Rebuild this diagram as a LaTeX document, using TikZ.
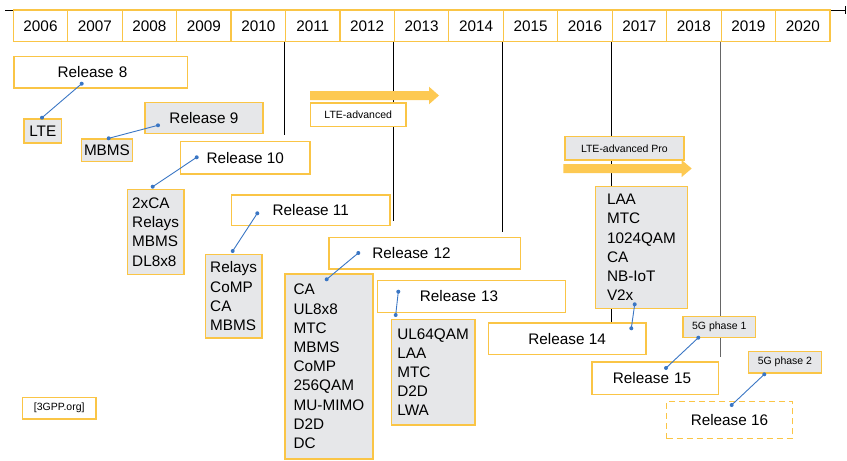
\documentclass[tikz,border=0pt]{standalone}
\usepackage{fontspec}
\setmainfont{Liberation Sans}
\usetikzlibrary{arrows.meta}

\definecolor{relorange}{RGB}{250,197,70}
\definecolor{arrowfill}{RGB}{253,201,82}
\definecolor{featgrey}{RGB}{230,231,233}
\definecolor{linkblue}{RGB}{58,118,196}

\tikzset{
	yearbox/.style={draw=relorange,line width=1.2pt,fill=white,minimum width=54.45pt,minimum height=31.7pt,inner sep=0pt,font=\fontsize{15.3}{18}\selectfont},
	relbox/.style={draw=relorange,line width=1.2pt,fill=white,anchor=north west,inner sep=0pt,font=\fontsize{15.3}{19.2}\selectfont},
	featbox/.style={relbox,fill=featgrey,align=left},
	tagbox/.style={relbox,font=\fontsize{10.5}{12}\selectfont},
	link/.style={linkblue,line width=0.9pt},
}

\begin{document}
\begin{tikzpicture}[x=1pt,y=-1pt]
	\useasboundingbox (0,0) rectangle (847,461);
	\def\yw{54.45} %width of one year box
	
	%TIMELINE
	\draw[line width=0.9pt,-{Bar[width=8pt]}] (5,10) -- (846,10);
	\foreach \yr [count=\i from 0] in {2006,...,2020}
		\node[yearbox] (y\yr) at ({40.5+\yw*\i},25.85) {\yr};
	
	%MARKER LINES
	\draw[line width=0.9pt] (y2011.south west) -- ++(0,93);
	\draw[line width=0.9pt] (y2013.south west) -- ++(0,178.3);
	\draw[line width=0.9pt] (y2015.south west) -- ++(0,190);
	\draw[line width=0.9pt] (y2017.south west) -- ++(0,280.6);
	\draw[line width=1.8pt,black!60] (y2019.south west) -- ++(0,315); %5G line
	
	%ARROWS
	\fill[arrowfill] (310,91) -- (429,91) -- (429,86.7) -- (439,95.5) -- (429,104.3) -- (429,100) -- (310,100) -- cycle; %LTE-advanced
	\fill[arrowfill] (563.3,164) -- (681.7,164) -- (681.7,160) -- (691.7,168.5) -- (681.7,177) -- (681.7,173) -- (563.3,173) -- cycle; %LTE-advanced Pro
	
	%RELEASES
	\node[relbox,text width=86pt,align=left,inner xsep=43.7pt,minimum height=31.3pt] (r8) at (13.3,56) {Release 8};
	\node[featbox,minimum width=37.7pt,minimum height=24pt] (lte) at (23.3,118.3) {LTE};
	\node[featbox,minimum width=118pt,minimum height=31pt] (r9) at (144.3,101.7) {Release 9};
	\node[featbox,minimum width=51.3pt,minimum height=22.7pt] (mbms) at (80.7,138.3) {MBMS};
	\node[relbox,minimum width=129.3pt,minimum height=32.6pt] (r10) at (180,140.7) {Release 10};
	\node[featbox,minimum width=56.6pt,minimum height=85.3pt] (f10) at (126.7,188.7) {2xCA\\Relays\\MBMS\\DL8x8};
	\node[relbox,minimum width=158.3pt,minimum height=30.4pt] (r11) at (231,194.3) {Release 11};
	\node[featbox,minimum width=56.6pt,minimum height=83.3pt] (f11) at (204.7,254) {Relays\\CoMP\\CA\\MBMS};
	\node[relbox,text width=104.9pt,align=left,inner xsep=43.4pt,minimum height=31.6pt] (r12) at (328.3,236.7) {Release 12};
	\node[featbox,minimum width=88pt,minimum height=185pt] (f12) at (284.3,273.3) {CA\\UL8x8\\MTC\\MBMS\\CoMP\\256QAM\\MU-MIMO\\D2D\\DC};
	\node[relbox,text width=103.1pt,align=left,inner xsep=42.6pt,minimum height=31.7pt] (r13) at (376.7,280) {Release 13};
	\node[featbox,minimum width=83.6pt,minimum height=105.3pt] (f13) at (390.7,319) {UL64QAM\\LAA\\MTC\\D2D\\LWA};
	\node[featbox,minimum width=91.7pt,minimum height=121.7pt] (f14) at (595,186) {LAA\\MTC\\1024QAM\\CA\\NB-IoT\\V2x};
	\node[relbox,minimum width=157.6pt,minimum height=31.7pt] (r14) at (487.7,322.3) {Release 14};
	\node[relbox,text width=84.7pt,align=left,inner xsep=21pt,minimum height=32.4pt] (r15) at (591.3,361.3) {Release 15};
	\node[relbox,dash pattern=on 6pt off 4pt,minimum width=125.7pt,minimum height=37pt] (r16) at (666,401) {Release 16};
	
	%TAGS
	\node[tagbox,minimum width=95.3pt,minimum height=23.4pt] (ltea) at (310,102.3) {LTE-advanced};
	\node[tagbox,fill=featgrey,minimum width=119pt,minimum height=23.3pt] (lteapro) at (564.3,136) {LTE-advanced Pro};
	\node[tagbox,fill=featgrey,minimum width=72.7pt,minimum height=21.3pt] (g1) at (682.3,315.7) {5G phase 1};
	\node[tagbox,fill=featgrey,minimum width=73.3pt,minimum height=21.6pt] (g2) at (747.7,350.7) {5G phase 2};
	\node[tagbox,minimum width=73.3pt,minimum height=21.6pt] (src) at (22,396.7) {[3GPP.org]};
	
	%LINKS
	\coordinate (r8d) at (81.7,83.7);   \coordinate (lted) at (42,117.7);
	\coordinate (r9d) at (158,125.3);   \coordinate (mbmsd) at (108.7,138.3);
	\coordinate (r10d) at (196.7,157.3); \coordinate (f10d) at (152.7,186.7);
	\coordinate (r11d) at (257.3,213.3); \coordinate (f11d) at (232.7,251);
	\coordinate (r12d) at (358.3,253);   \coordinate (f12d) at (326.7,279.3);
	\coordinate (r13d) at (398.3,291.7); \coordinate (f13d) at (395.7,315);
	\coordinate (f14d) at (634.7,304.3); \coordinate (r14d) at (631.3,328.3);
	\coordinate (g1d) at (698.3,337.7);  \coordinate (r15d) at (666,368);
	\coordinate (g2d) at (764.3,374.3);  \coordinate (r16d) at (731.7,405);
	\draw[link] (r8d) -- (lted);
	\draw[link] (r9d) -- (mbmsd);
	\draw[link] (r10d) -- (f10d);
	\draw[link] (r11d) -- (f11d);
	\draw[link] (r12d) -- (f12d);
	\draw[link] (r13d) -- (f13d);
	\draw[link] (f14d) -- (r14d);
	\draw[link] (g1d) -- (r15d);
	\draw[link] (g2d) -- (r16d);
	\fill[linkblue] (r8d) circle (2pt) (lted) circle (2pt) (r9d) circle (2pt) (mbmsd) circle (2pt)
		(r10d) circle (2pt) (f10d) circle (2pt) (r11d) circle (2pt) (f11d) circle (2pt)
		(r12d) circle (2pt) (f12d) circle (2pt) (r13d) circle (2pt) (f13d) circle (2pt)
		(f14d) circle (2pt) (r14d) circle (2pt) (g1d) circle (2pt) (r15d) circle (2pt)
		(g2d) circle (2pt) (r16d) circle (2pt);
\end{tikzpicture}
\end{document}
